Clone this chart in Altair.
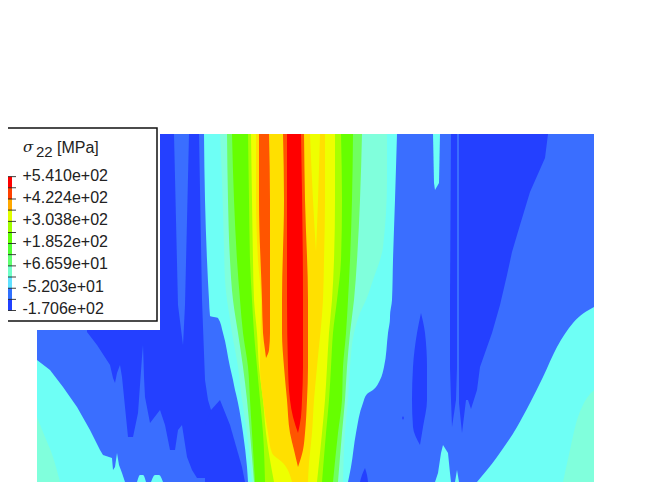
import altair as alt
import pandas as pd

# colours of the contour bands
DARK = "#2440FF"; MEDIUM = "#3A6EFF"; CYAN = "#6EFFF5"; AQUA = "#80FFDC"
LGREEN = "#70FF60"; GREEN = "#66FF00"; YGREEN = "#A8FF00"; YELLOW = "#EEFF00"
GOLD = "#FFE000"; ORANGE = "#FF5500"; RED = "#FF0000"

# regions. h: (y, left, right)   v: (x, top, bottom)
FIELD = [(37, 134, 482), (594, 134, 482)]
LOW_LEFT_CYAN = [(37,360,482),(50,370,482),(63,387,482),(77,407,482),(90,430,482),(100,450,482),(103,455,482),
                 (112,458,482),(113,470,482),(115,467,482),(117,453,482),(119,465,482),(122,473,482),(125,482,482)]
LOW_LEFT_AQUA = [(37,417,482),(45,437,482),(53,457,482),(60,482,482)]
BUMP_A = [(137,482,482),(140,475,482),(143,475,482),(146,482,482)]
BUMP_B = [(151,482,482),(155,475,482),(159,475,482),(163,482,482)]
DARK_LEFT = [(87,134,332),(97,134,345),(110,134,365),(113,134,378),(115,134,383),(117,134,373),(120,134,365),
             (122,134,377),(123,134,387),(127,134,427),(128,134,437),(133,134,437),(138,134,413),(142,134,357),
             (143,134,345),(144,134,377),(145,134,397),(150,134,423),(160,134,410),(165,134,425),(170,134,450),
             (175,134,450),(178,134,430),(182,134,425),(187,134,457),(192,134,470),(197,134,478),(208,134,478),
             (212,134,482),(250,134,482)]
WEDGE = [(134,174,189),(305,178,185),(345,183,183)]
STRIP = [(134,199,210),(300,202,215),(380,205,240),(400,208,245),(410,211,248),(482,211,250)]
PROTRUSION = [(400,220,220),(410,211,224),(425,205,230),(467,205,242),(482,205,245)]

RIGHT_STRIP = [(134,451,457),(300,450,457),(367,450,457),(400,451,456),(427,452,452)]
RIGHT_DARK = [(459,134,403),(462,134,433),(466,134,400),(468,134,400),(471,134,409),(477,134,390),(480,134,367),
              (492,134,333),(500,134,305),(507,134,275),(512,134,252),(520,134,225),(530,134,192),(545,134,158),(548,134,134)]
OVAL = [(313,421,421),(333,417,425),(367,413,427),(400,412,427),(427,413,423),(445,420,420)]
DOT = [(416,403,403),(418,402,404),(420,403,403)]
BLOB = [(468,365,365),(475,362,367),(482,360,368)]
RIGHT_CYAN = [(477,482,482),(497,457,482),(517,427,482),(530,403,482),(543,377,482),(557,347,482),(573,323,482),(594,307,482)]
RIGHT_AQUA = [(563,482,482),(570,450,482),(577,420,482),(583,405,482),(594,390,482)]
SPIKE_A = [(445,443,443),(453,441,448),(473,438,450),(482,435,451)]
SPIKE_B = [(470,457,457),(482,455,459)]
SLIVER = [(134,433,440),(183,434,439),(190,435,435)]

BAND_CYAN = list(zip([134,200,260,300,316,318,333,367,380,390,394,403,433,467,482],
                     [204,205,207,209,210,218,223,230,233,235,236,238,243,247,248],
                     [397,395,393,392,390,390,388,384,380,373,367,363,356,351,348]))
BAND_AQUA = list(zip([134,180,247,280,300,313,333,367,400,433,482],
                     [220,222,224,225,227,229,232,238,242,247,252],
                     [387,387,383,373,366,360,354,350,348,345,343]))
LEVELS = [134,200,260,300,333,367,400,433,482]
BAND_LGREEN = list(zip(LEVELS,[227,228,230,233,238,243,247,250,254],[362,360,357,354,350,347,345,342,338]))
BAND_GREEN = list(zip(LEVELS,[232,234,237,240,243,248,250,252,255],[353,352,350,348,346,343,342,338,333]))
BAND_YGREEN = list(zip(LEVELS,[248,249,250,252,254,257,260,263,265],[341,342,341,337,333,331,329,326,322]))
BAND_YELLOW = list(zip(LEVELS,[251,252,253,254,257,259,263,266,274],[335,335,334,332,329,327,325,322,317]))
BAND_GOLD = list(zip([134,200,260,300,367,400,433,453,463,482],
                     [256,256,258,261,260,263,268,272,283,292],
                     [325,325,324,323,317,314,312,310,309,308]))
GOLD_YELLOW_WEDGE = [(134,310,320),(200,313,318),(252,316,316)]
ORANGE_WEDGE = [(134,259,269),(200,259,270),(300,262,270),(333,263,270),(350,265,269),(358,266,266)]
CORE_ORANGE = [(134,283,304),(200,284,305),(300,282,308),(333,282,308),(367,284,308),(400,287,307),(433,290,305),(450,294,303),(467,298,298)]
CORE_RED = [(134,287,301),(300,287,303),(367,288,303),(400,290,302),(417,293,301),(433,298,298)]

# legend
LEGEND_COLORS = ["#FF0000","#FF4000","#FFA800","#E0FF00","#A0FF00","#60FF00","#50FF30","#60FF70",
                 "#70FFC8","#60E0FF","#3070FF","#2040FF"]
LEGEND_TICKS = [176.7,187.8,199,210.1,221.3,232.4,243.6,254.7,265.9,277,288.2,299.3,310.5]
LEGEND_LABELS = ["+5.410e+02","+4.224e+02","+3.038e+02","+1.852e+02","+6.659e+01","-5.203e+01","-1.706e+02"]
LABEL_Y = [175.7,197.7,219.8,242,264.2,286.6,309]

X = alt.Scale(domain=[8,646], nice=False, zero=False)
Y = alt.Scale(domain=[482,8], nice=False, zero=False)

def h(points, color, curve="linear"):
    df = pd.DataFrame(points, columns=["y","a","b"])
    return alt.Chart(df).mark_area(orient="horizontal", color=color, opacity=1, interpolate=curve).encode(
        y=alt.Y("y:Q", scale=Y, axis=None), x=alt.X("a:Q", scale=X, axis=None), x2="b:Q")

def v(points, color, curve="linear"):
    df = pd.DataFrame(points, columns=["x","a","b"])
    return alt.Chart(df).mark_area(orient="vertical", color=color, opacity=1, interpolate=curve).encode(
        x=alt.X("x:Q", scale=X, axis=None), y=alt.Y("a:Q", scale=Y, axis=None), y2="b:Q")

def box(x0, x1, y0, y1, **kw):
    df = pd.DataFrame({"x0":[x0],"x1":[x1],"y0":[y0],"y1":[y1]})
    return alt.Chart(df).mark_rect(**kw).encode(
        x=alt.X("x0:Q", scale=X, axis=None), x2="x1:Q",
        y=alt.Y("y0:Q", scale=Y, axis=None), y2="y1:Q")

def label(txt, x, y, size, **kw):
    df = pd.DataFrame({"t":[txt],"x":[x],"y":[y]})
    return alt.Chart(df).mark_text(align="left", baseline="middle", fontSize=size, color="#222222", **kw).encode(
        x=alt.X("x:Q", scale=X, axis=None), y=alt.Y("y:Q", scale=Y, axis=None), text="t:N")

M = "monotone"
layers = [
    v(FIELD, MEDIUM),
    v(LOW_LEFT_CYAN, CYAN), v(LOW_LEFT_AQUA, AQUA, M), v(BUMP_A, CYAN, M), v(BUMP_B, CYAN, M),
    v(DARK_LEFT, DARK), h(WEDGE, MEDIUM), h(STRIP, MEDIUM), h(PROTRUSION, DARK),
    h(RIGHT_STRIP, DARK), v(RIGHT_DARK, DARK), h(OVAL, DARK, M), h(DOT, DARK), h(BLOB, DARK, M),
    v(RIGHT_CYAN, CYAN, M), v(RIGHT_AQUA, AQUA, M), h(SPIKE_A, CYAN), h(SPIKE_B, CYAN), h(SLIVER, CYAN),
    h(BAND_CYAN, CYAN, M), h(BAND_AQUA, AQUA, M), h(BAND_LGREEN, LGREEN, M), h(BAND_GREEN, GREEN, M),
    h(BAND_YGREEN, YGREEN, M), h(BAND_YELLOW, YELLOW, M), h(BAND_GOLD, GOLD, M), h(GOLD_YELLOW_WEDGE, YELLOW, M),
    h(ORANGE_WEDGE, ORANGE, M), h(CORE_ORANGE, ORANGE, M), h(CORE_RED, RED, M),
    box(0, 160, 120, 330, color="white"),
    box(-5, 157, 128, 321, color="white", stroke="#111111", strokeWidth=1.5),
]
for i, c in enumerate(LEGEND_COLORS):
    layers.append(box(8, 12, LEGEND_TICKS[i], LEGEND_TICKS[i+1], color=c))
for t in LEGEND_TICKS:
    layers.append(box(8, 16, t-0.4, t+0.4, color="#111111"))
for txt, y in zip(LEGEND_LABELS, LABEL_Y):
    layers.append(label(txt, 22.5, y, 16, font="Liberation Sans"))
layers += [
    label("σ", 23, 147, 15, font="DejaVu Serif", fontStyle="italic"),
    label("22", 36, 152, 15, font="Liberation Sans"),
    label("[MPa]", 57, 148, 16, font="Liberation Sans"),
]

chart = alt.layer(*layers).properties(
    width=638, height=474, padding=0, autosize=alt.AutoSizeParams(type="none")
).configure_view(strokeWidth=0)

chart.save("out.html", embed_options={"renderer": "svg", "actions": False})
